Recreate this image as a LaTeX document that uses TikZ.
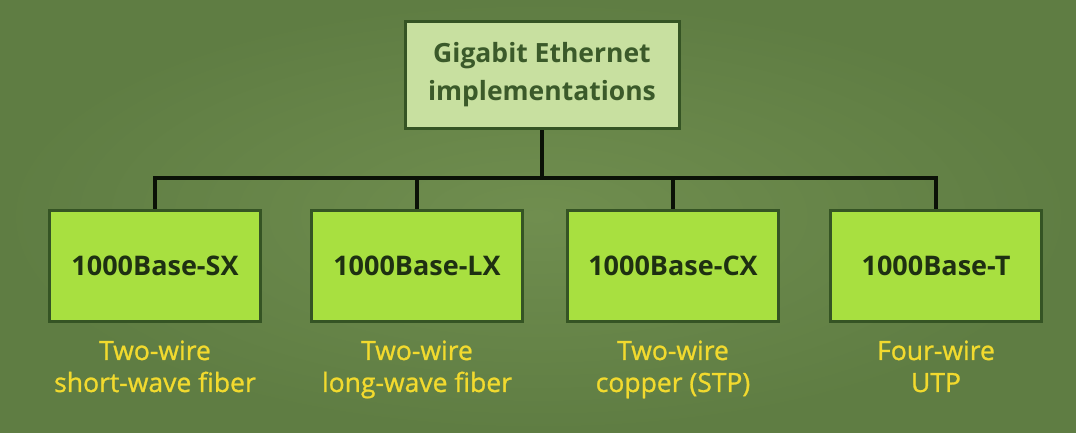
\documentclass[tikz,border=0pt]{standalone}
\usepackage{fontspec}
\setmainfont{Open Sans}
\usetikzlibrary{positioning}

\definecolor{bgin}{HTML}{708E4F}
\definecolor{bgout}{HTML}{5F7D43}
\definecolor{topfill}{HTML}{C8E0A0}
\definecolor{boxfill}{HTML}{A8E040}
\definecolor{edge}{HTML}{355424}
\definecolor{toptext}{HTML}{3B5A2A}
\definecolor{boxtext}{HTML}{1E3012}
\definecolor{note}{HTML}{F2DA2E}

\begin{document}
\begin{tikzpicture}[x=1pt, y=-1pt,
		root/.style={draw=edge, line width=3pt, fill=topfill, text=toptext, minimum width=274pt, minimum height=107pt, align=center, font=\fontsize{26.5}{38}\selectfont\bfseries},
		kind/.style={draw=edge, line width=3pt, fill=boxfill, text=boxtext, minimum width=211pt, minimum height=111pt, font=\fontsize{27}{30}\selectfont\bfseries},
		note/.style={text=note, align=center, font=\fontsize{26.5}{32}\selectfont\addfontfeature{FakeBold=1}},
		link/.style={draw=black!80!edge, line width=3.5pt}]
		\useasboundingbox (0,0) rectangle (1076,432);
		\shade[inner color=bgin, outer color=bgout] (0,0) rectangle (1076,432);
		\node[root] (gbe) at (542,75) {Gigabit Ethernet\\implementations};
		\node[kind] (sx) at (155,266) {1000Base-SX};
		\node[kind] (lx) at (417,266) {1000Base-LX};
		\node[kind] (cx) at (673,266) {1000Base-CX};
		\node[kind] (t) at (936,266) {1000Base-T};
		\node[note, below=14pt of sx] (sxnote) {Two-wire\\short-wave fiber};
		\node[note, below=14pt of lx] (lxnote) {Two-wire\\long-wave fiber};
		\node[note, below=14pt of cx] (cxnote) {Two-wire\\copper (STP)};
		\node[note, below=14pt of t] (tnote) {Four-wire\\UTP};
		\coordinate (bus) at (542,178);
		\draw[link] (gbe.south) -- (bus);
		\draw[link] (bus) -| (sx.north);
		\draw[link] (bus) -| (lx.north);
		\draw[link] (bus) -| (cx.north);
		\draw[link] (bus) -| (t.north);
	\end{tikzpicture}
\end{document}
